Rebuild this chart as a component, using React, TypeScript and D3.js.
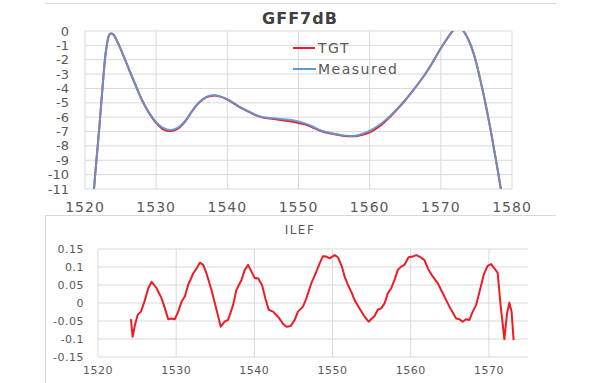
import React from "react";
import * as d3 from "d3";

// ---------- Data ----------
const gffWavelengths = [
  1521.0, 1521.5, 1522.0, 1522.5, 1523.0, 1523.5, 1524.0, 1524.5, 1525, 1526, 1527, 1528, 1529, 1530,
  1531, 1532, 1533, 1534, 1535, 1536, 1537, 1538, 1539, 1540, 1541, 1542, 1543, 1544, 1545, 1546,
  1547, 1548, 1549, 1550, 1551, 1552, 1553, 1554, 1555, 1556, 1557, 1558, 1559, 1560, 1561, 1562,
  1563, 1564, 1565, 1566, 1567, 1568, 1569, 1570, 1571, 1571.5, 1572, 1572.5, 1573, 1573.5, 1574,
  1574.5, 1575, 1575.5, 1576, 1576.5, 1577, 1577.5, 1578, 1578.5, 1579,
];
const measuredValues = [
  -12.6, -9.6, -6.8, -3.7, -1.2, -0.2, -0.25, -0.7, -1.25, -2.45, -3.65, -4.8, -5.7, -6.35,
  -6.75, -6.9, -6.75, -6.3, -5.6, -5.0, -4.6, -4.48, -4.55, -4.75, -5.05, -5.35, -5.6, -5.85, -6.0, -6.05,
  -6.1, -6.15, -6.2, -6.3, -6.45, -6.65, -6.9, -7.05, -7.15, -7.25, -7.3, -7.3, -7.15, -6.95, -6.65, -6.3,
  -5.85, -5.35, -4.8, -4.2, -3.55, -2.85, -2.05, -1.2, -0.45, -0.1, 0.15, 0.25, 0.1, -0.25, -0.75,
  -1.4, -2.25, -3.3, -4.4, -5.6, -6.9, -8.3, -9.7, -11.2, -12.8,
];
const tgtValues = [
  -12.6, -9.6, -6.8, -3.7, -1.2, -0.2, -0.25, -0.7, -1.25, -2.45, -3.65, -4.8, -5.7, -6.4,
  -6.85, -6.97, -6.82, -6.35, -5.62, -5.0, -4.62, -4.5, -4.57, -4.77, -5.07, -5.37, -5.62, -5.87, -6.03, -6.1,
  -6.16, -6.23, -6.3, -6.4, -6.52, -6.72, -6.93, -7.08, -7.18, -7.27, -7.32, -7.33, -7.22, -7.05, -6.76, -6.38,
  -5.9, -5.38, -4.82, -4.2, -3.55, -2.85, -2.05, -1.2, -0.45, -0.1, 0.15, 0.25, 0.1, -0.25, -0.75,
  -1.4, -2.25, -3.3, -4.4, -5.6, -6.9, -8.3, -9.7, -11.2, -12.8,
];
const gffXTicks = [1520, 1530, 1540, 1550, 1560, 1570, 1580];
const gffYTicks = [0, -1, -2, -3, -4, -5, -6, -7, -8, -9, -10, -11];

const ilefWavelengths = [
  1524.21, 1524.43, 1524.73, 1525.07, 1525.5, 1526.0, 1526.43, 1526.86, 1527.5, 1528.13, 1528.56, 1528.98,
  1529.4, 1529.83, 1530.26, 1530.69, 1531.11, 1531.53, 1532.17, 1532.6, 1533.03, 1533.45, 1533.88, 1534.52,
  1535.16, 1535.7, 1536.2, 1536.64, 1537.28, 1537.7, 1538.35, 1538.77, 1539.2, 1539.63, 1540.05, 1540.47,
  1540.98, 1541.4, 1541.84, 1542.39, 1543.03, 1543.67, 1544.1, 1544.65, 1545.16, 1545.58, 1546.22, 1546.65,
  1547.29, 1547.93, 1548.35, 1548.77, 1549.2, 1549.63, 1550.27, 1550.69, 1551.2, 1551.55, 1551.97, 1552.4,
  1552.82, 1553.46, 1554.1, 1554.61, 1555.03, 1555.38, 1555.8, 1556.23, 1556.65, 1557.08, 1557.51, 1557.93,
  1558.35, 1558.78, 1559.2, 1559.72, 1560.27, 1560.7, 1561.12, 1561.76, 1562.19, 1562.83, 1563.46, 1564.1,
  1564.74, 1565.17, 1565.81, 1566.23, 1566.65, 1567.08, 1567.5, 1567.93, 1568.36, 1568.91, 1569.33, 1569.84,
  1570.28, 1570.7, 1571.12, 1571.47, 1571.98, 1572.32, 1572.62, 1572.9, 1573.16,
];
const ilefValues = [
  -0.045, -0.094, -0.061, -0.033, -0.024, 0.008, 0.041, 0.059, 0.041, 0.013, -0.015, -0.045,
  -0.043, -0.045, -0.024, 0.004, 0.018, 0.05, 0.082, 0.096, 0.112, 0.106, 0.082, 0.036,
  -0.019, -0.066, -0.052, -0.047, -0.006, 0.036, 0.064, 0.092, 0.106, 0.087, 0.069, 0.069,
  0.05, 0.013, -0.019, -0.024, -0.038, -0.058, -0.066, -0.064, -0.047, -0.024, -0.01, 0.013,
  0.055, 0.087, 0.11, 0.13, 0.129, 0.124, 0.133, 0.127, 0.101, 0.073, 0.05, 0.031,
  0.008, -0.015, -0.038, -0.052, -0.043, -0.036, -0.018, -0.015, -0.001, 0.027, 0.041, 0.064,
  0.092, 0.101, 0.106, 0.127, 0.129, 0.133, 0.129, 0.119, 0.096, 0.073, 0.055, 0.027,
  -0.001, -0.019, -0.043, -0.045, -0.052, -0.045, -0.047, -0.024, -0.006, 0.041, 0.078, 0.103,
  0.108, 0.096, 0.084, -0.001, -0.101, -0.029, 0.001, -0.024, -0.103,
];
const ilefXTicks = [1520, 1530, 1540, 1550, 1560, 1570];
const ilefYTicks = [0.15, 0.1, 0.05, 0, -0.05, -0.1, -0.15];

const GRID = "#d9d9d9";
const LABEL = "#595959";
const RED = "#ee1c25";
const BLUE = "#5b9bd5";
const FONT = "'DejaVu Sans', sans-serif";

export default function App() {
  // Top chart scales
  const x1 = d3.scaleLinear().domain([1520, 1580]).range([85, 512]);
  const y1 = d3.scaleLinear().domain([0, -11]).range([31, 189]);
  // Bottom chart scales
  const x2 = d3.scaleLinear().domain([1520, 1575]).range([98, 528]);
  const y2 = d3.scaleLinear().domain([0.15, -0.15]).range([249, 357]);

  const line1 = d3
    .line<number>()
    .x((_, i) => x1(gffWavelengths[i]))
    .y((d) => y1(d))
    .curve(d3.curveCatmullRom.alpha(0.5));

  const line2 = d3
    .line<number>()
    .x((_, i) => x2(ilefWavelengths[i]))
    .y((d) => y2(d))
    .curve(d3.curveLinear);

  const fmt2 = (v: number) => (v === 0 ? "0" : String(v));

  return (
    <div style={{ position: "fixed", left: 0, top: 0, width: 600, height: 383, background: "#fff" }}>
      <svg width={600} height={383} style={{ display: "block" }} fontFamily={FONT}>
        <rect x={0} y={0} width={600} height={383} fill="#fff" />
        <defs>
          <clipPath id="clipTop">
            <rect x={x1(1520)} y={y1(0)} width={x1(1580) - x1(1520)} height={y1(-11) - y1(0)} />
          </clipPath>
        </defs>

        {/* chart frames */}
        <line x1={45} x2={556} y1={3.5} y2={3.5} stroke={GRID} strokeWidth={1} />
        <line x1={45} x2={556} y1={215.5} y2={215.5} stroke={GRID} strokeWidth={1} />
        <line x1={45.5} x2={45.5} y1={215} y2={383} stroke={GRID} strokeWidth={1} />

        {/* ---------- Top chart ---------- */}
        <text x={300} y={24} textAnchor="middle" fontSize={16} fontWeight="bold" fill="#404040" letterSpacing={1}>
          GFF7dB
        </text>
        {gffYTicks.map((t) => (
          <line key={"h1" + t} x1={x1(1520)} x2={x1(1580)} y1={y1(t)} y2={y1(t)} stroke={GRID} strokeWidth={1} />
        ))}
        {gffXTicks.map((t) => (
          <line key={"v1" + t} x1={x1(t)} x2={x1(t)} y1={y1(0)} y2={y1(-11)} stroke={GRID} strokeWidth={1} />
        ))}
        {gffYTicks.map((t) => (
          <text key={"yl1" + t} x={69} y={y1(t) + 4.5} textAnchor="end" fontSize={13} fill={LABEL}>
            {t === 0 ? "0" : "-" + Math.abs(t)}
          </text>
        ))}
        {gffXTicks.map((t) => (
          <text key={"xl1" + t} x={x1(t)} y={212} textAnchor="middle" fontSize={14} fill={LABEL} letterSpacing={1}>
            {t}
          </text>
        ))}
        <g clipPath="url(#clipTop)">
          <path d={line1(tgtValues) || ""} fill="none" stroke={RED} strokeWidth={2} />
          <path d={line1(measuredValues) || ""} fill="none" stroke={BLUE} strokeWidth={2} strokeOpacity={0.9} />
        </g>
        {/* legend */}
        <line x1={293} x2={315} y1={48} y2={48} stroke={RED} strokeWidth={2} />
        <text x={318} y={53} fontSize={14} fill={LABEL} letterSpacing={1.5}>
          TGT
        </text>
        <line x1={293} x2={316} y1={69} y2={69} stroke={BLUE} strokeWidth={2} />
        <text x={318} y={74} fontSize={14} fill={LABEL} letterSpacing={1.5}>
          Measured
        </text>

        {/* ---------- Bottom chart ---------- */}
        <text x={300} y={234} textAnchor="middle" fontSize={12} fill={LABEL} letterSpacing={1.5}>
          ILEF
        </text>
        {ilefYTicks.map((t) => (
          <line key={"h2" + t} x1={x2(1520)} x2={x2(1575)} y1={y2(t)} y2={y2(t)} stroke={GRID} strokeWidth={1} />
        ))}
        {ilefXTicks.map((t) => (
          <line key={"v2" + t} x1={x2(t)} x2={x2(t)} y1={y2(0.15)} y2={y2(-0.15)} stroke={GRID} strokeWidth={1} />
        ))}
        {ilefYTicks.map((t) => (
          <text key={"yl2" + t} x={84} y={y2(t) + 4} textAnchor="end" fontSize={11} fill={LABEL} letterSpacing={0.5}>
            {fmt2(t)}
          </text>
        ))}
        {ilefXTicks.map((t) => (
          <text key={"xl2" + t} x={x2(t)} y={374} textAnchor="middle" fontSize={11} fill={LABEL} letterSpacing={0.5}>
            {t}
          </text>
        ))}
        <path d={line2(ilefValues) || ""} fill="none" stroke={RED} strokeWidth={2} strokeLinejoin="round" />
      </svg>
    </div>
  );
}
